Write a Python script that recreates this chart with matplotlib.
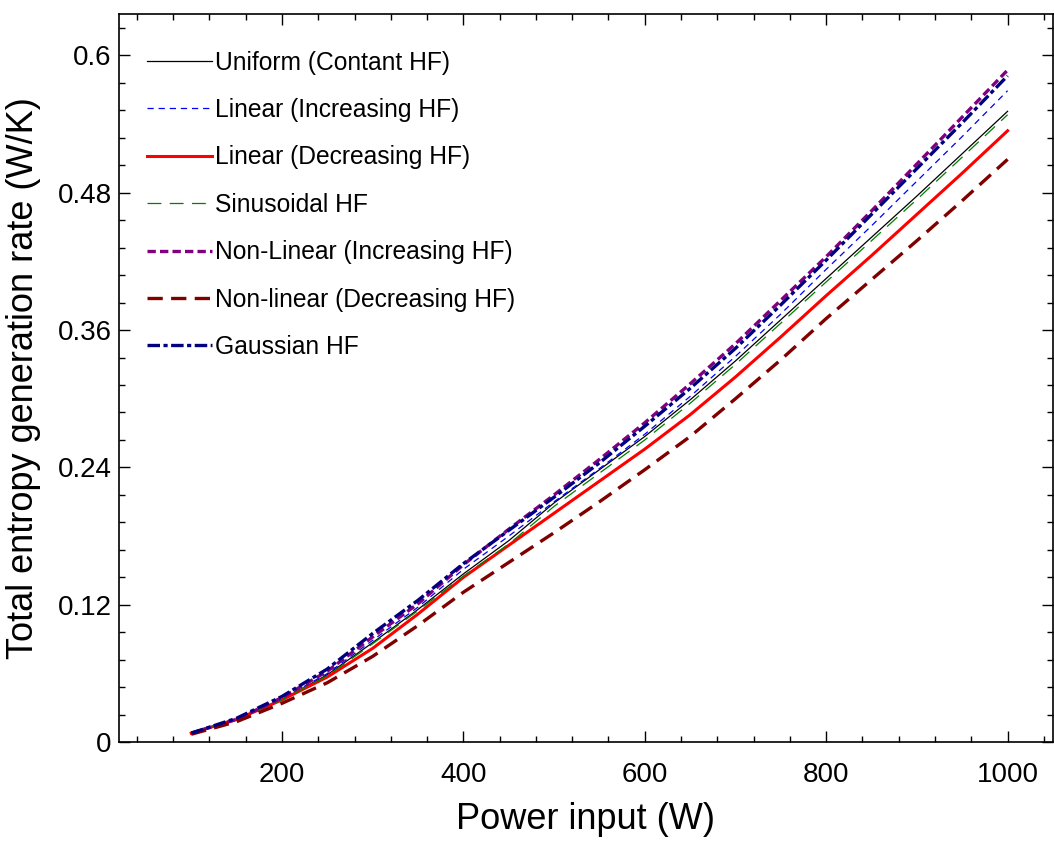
import matplotlib
matplotlib.use("Agg")
import matplotlib.pyplot as plt
from matplotlib.ticker import MultipleLocator

plt.rcParams['font.family'] = ['Liberation Sans', 'DejaVu Sans']
plt.rcParams['lines.scale_dashes'] = False

power = [100, 150, 200, 250, 300, 350, 400, 450, 500, 550, 600, 650, 700, 750, 800, 850, 900, 950, 1000]

uniform = [0.008, 0.020, 0.037, 0.059, 0.087, 0.116, 0.147, 0.176, 0.209, 0.238, 0.267, 0.299, 0.333, 0.369, 0.405, 0.441, 0.477, 0.514, 0.551]
linear_inc = [0.008, 0.020, 0.038, 0.060, 0.089, 0.118, 0.151, 0.180, 0.210, 0.239, 0.269, 0.302, 0.337, 0.374, 0.413, 0.451, 0.490, 0.529, 0.569]
linear_dec = [0.008, 0.020, 0.037, 0.057, 0.082, 0.112, 0.144, 0.172, 0.200, 0.228, 0.256, 0.286, 0.319, 0.354, 0.390, 0.425, 0.461, 0.497, 0.534]
sinusoidal = [0.008, 0.020, 0.037, 0.058, 0.086, 0.115, 0.145, 0.173, 0.206, 0.235, 0.264, 0.296, 0.330, 0.366, 0.402, 0.438, 0.474, 0.511, 0.548]
nonlin_inc = [0.008, 0.020, 0.039, 0.062, 0.092, 0.121, 0.155, 0.186, 0.216, 0.247, 0.279, 0.313, 0.348, 0.386, 0.424, 0.464, 0.505, 0.546, 0.587]
nonlin_dec = [0.007, 0.018, 0.034, 0.052, 0.075, 0.102, 0.131, 0.157, 0.183, 0.210, 0.238, 0.267, 0.300, 0.334, 0.370, 0.404, 0.438, 0.473, 0.509]
gaussian = [0.008, 0.021, 0.040, 0.064, 0.095, 0.124, 0.156, 0.185, 0.214, 0.244, 0.276, 0.309, 0.344, 0.382, 0.421, 0.461, 0.501, 0.541, 0.582]

labels = ["Uniform (Contant HF)", "Linear (Increasing HF)", "Linear (Decreasing HF)",
          "Sinusoidal HF", "Non-Linear (Increasing HF)", "Non-linear (Decreasing HF)",
          "Gaussian HF"]

fig = plt.figure(figsize=(10.54, 8.41), dpi=100)
ax = fig.add_axes([0.1126, 0.1174, 0.8864, 0.866])

ax.plot(power, uniform, color='black', lw=0.9, ls='-', label=labels[0])
ax.plot(power, linear_inc, color='#0000FF', lw=0.9, ls=(0, (4.5, 3.5)), label=labels[1])
ax.plot(power, linear_dec, color='#FF0000', lw=2.2, ls='-', label=labels[2])
ax.plot(power, sinusoidal, color='#008000', lw=0.9, ls=(0, (10, 6)), label=labels[3])
ax.plot(power, nonlin_inc, color='#800080', lw=2.4, ls=(0, (6, 3)), label=labels[4])
ax.plot(power, nonlin_dec, color='#800000', lw=2.4, ls=(0, (11, 6)), label=labels[5])
ax.plot(power, gaussian, color='#000080', lw=2.4, ls=(0, (9, 2.5, 3, 2.5)), label=labels[6])

ax.set_xlim(20, 1050)
ax.set_ylim(0, 0.636)
ax.xaxis.set_minor_locator(MultipleLocator(40))
ax.yaxis.set_minor_locator(MultipleLocator(0.024))
ax.set_yticks([0, 0.12, 0.24, 0.36, 0.48, 0.6])
ax.set_yticklabels(["0", "0.12", "0.24", "0.36", "0.48", "0.6"])
ax.set_xticks([200, 400, 600, 800, 1000])

ax.tick_params(which='both', direction='in', top=True, right=True, labelsize=20, width=1.0)
ax.tick_params(which='major', length=8)
ax.tick_params(which='minor', length=4.5)
ax.tick_params(axis='x', which='major', pad=14)
ax.tick_params(axis='y', which='major', pad=5)
for s in ax.spines.values():
    s.set_linewidth(1.2)

ax.set_xlabel("Power input (W)", fontsize=26, labelpad=10)
ax.set_ylabel("Total entropy generation rate (W/K)", fontsize=26, labelpad=12)

leg = ax.legend(loc='upper left', bbox_to_anchor=(0.02, 0.963), frameon=False,
                fontsize=17.7, handlelength=2.65, handletextpad=0.1,
                labelspacing=0.95, borderaxespad=0)

fig.savefig("out.png", dpi=100)
